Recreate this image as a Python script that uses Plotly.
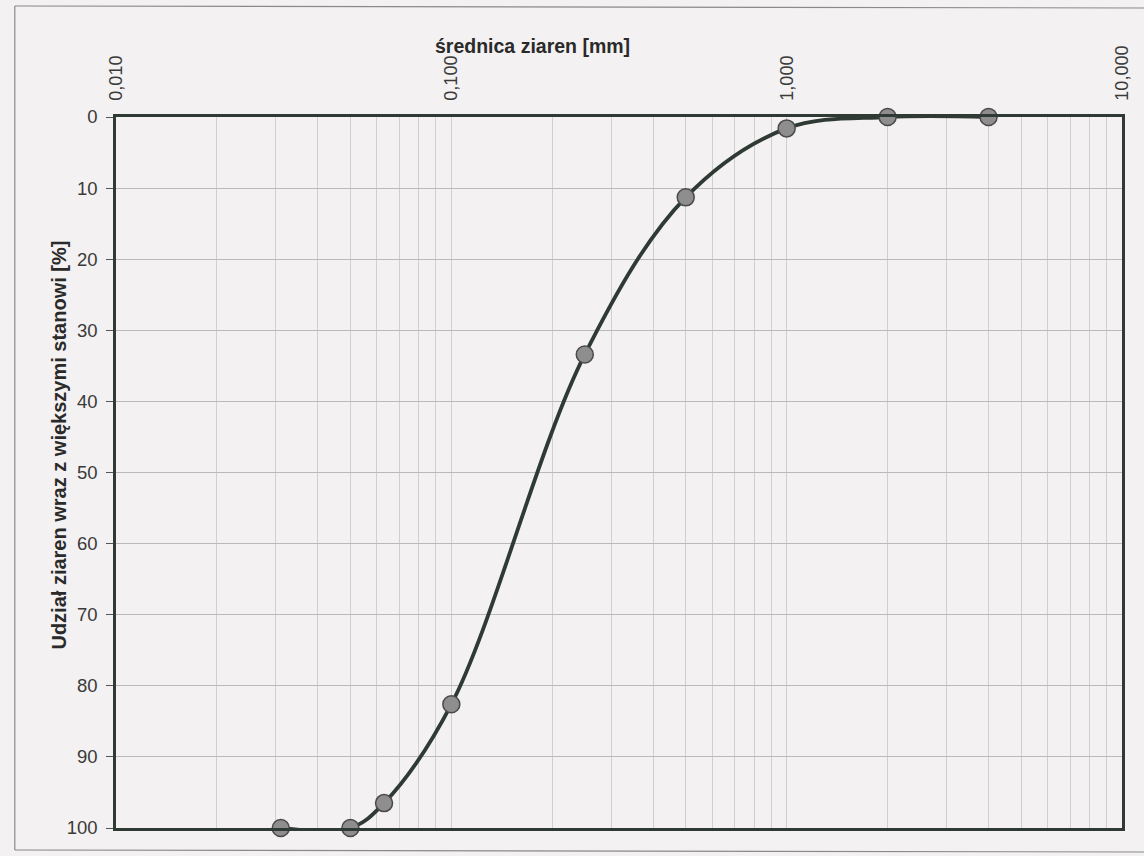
import plotly.graph_objects as go

# grain size distribution data
diameter_mm = [0.031, 0.05, 0.063, 0.1, 0.25, 0.5, 1.0, 2.0, 4.0]
share_pct = [100, 100, 96.5, 82.6, 33.4, 11.3, 1.6, 0, 0]

major_ticks = [0.01, 0.1, 1, 10]
major_labels = ["0,010", "0,100", "1,000", "10,000"]
y_ticks = [0, 10, 20, 30, 40, 50, 60, 70, 80, 90, 100]

# grid values (all log minors)
grid_vals = []
grid_text = []
for dec in [0.01, 0.1, 1]:
    for m in range(1, 10):
        v = round(dec * m, 6)
        grid_vals.append(v)
        grid_text.append(major_labels[major_ticks.index(dec)] if m == 1 else "")
grid_vals.append(10)
grid_text.append("10,000")

W, H = 1144, 856
L, R, T, B = 116, 14, 117, 28
pw, ph = W - L - R, H - T - B

def px(x):
    return (x - L) / pw

def py(y):
    return (H - B - y) / ph

bg = "#f3f1f1"
dark = "#2f3a34"

fig = go.Figure()
fig.add_trace(go.Scatter(
    x=diameter_mm, y=share_pct,
    mode="lines+markers",
    line=dict(color=dark, width=3.8, shape="spline", smoothing=1.0),
    marker=dict(size=17, color="#8e8e8e", line=dict(color="#4a4a4a", width=1.5)),
    cliponaxis=False,
    showlegend=False,
))

fig.update_layout(
    width=W, height=H,
    margin=dict(l=L, r=R, t=T, b=B),
    paper_bgcolor=bg, plot_bgcolor=bg,
    font=dict(family="Liberation Sans, Arial, sans-serif", color="#333333"),
    xaxis=dict(
        type="log", range=[-2, 1], side="top",
        tickmode="array", tickvals=grid_vals, ticktext=grid_text,
        tickangle=-90, tickfont=dict(size=18, color="#3a3a3a"),
        ticks="", showgrid=True, gridcolor="#cfcfcf", gridwidth=1,
        showline=True, linecolor=dark, linewidth=2.5, mirror=True,
        zeroline=False, ticklabelstandoff=10,
    ),
    yaxis=dict(
        range=[100, 0], tickmode="array", tickvals=y_ticks,
        tickfont=dict(size=18.5, color="#3a3a3a"),
        ticks="outside", ticklen=7, tickcolor="#555555", tickwidth=1,
        showgrid=True, gridcolor="#b9b9b9", gridwidth=1,
        showline=True, linecolor=dark, linewidth=2.5, mirror=True,
        zeroline=False, ticklabelstandoff=5,
    ),
    annotations=[
        dict(text="<b>średnica ziaren [mm]</b>", xref="paper", yref="paper",
             x=px(536), y=py(33), showarrow=False,
             font=dict(size=19.5, color="#2a2a2a")),
        dict(text="<b>Udział ziaren wraz z większymi stanowi [%]</b>", xref="paper", yref="paper",
             x=px(45), y=py(445), showarrow=False, textangle=-90,
             font=dict(size=20, color="#2a2a2a")),
    ],
    shapes=[
        dict(type="line", xref="paper", yref="paper", x0=px(14), x1=px(1160), y0=py(6), y1=py(8),
             line=dict(color="#8a8a8a", width=1.2)),
        dict(type="line", xref="paper", yref="paper", x0=px(14), x1=px(14), y0=py(6), y1=py(850),
             line=dict(color="#8a8a8a", width=1.2)),
        dict(type="line", xref="paper", yref="paper", x0=px(14), x1=px(1160), y0=py(850), y1=py(852),
             line=dict(color="#8a8a8a", width=1.2)),
    ],
)

fig.write_html(
    "out.html",
    config={"displayModeBar": False},
    post_script="document.body.style.margin='0';document.body.style.overflow='hidden';",
)
